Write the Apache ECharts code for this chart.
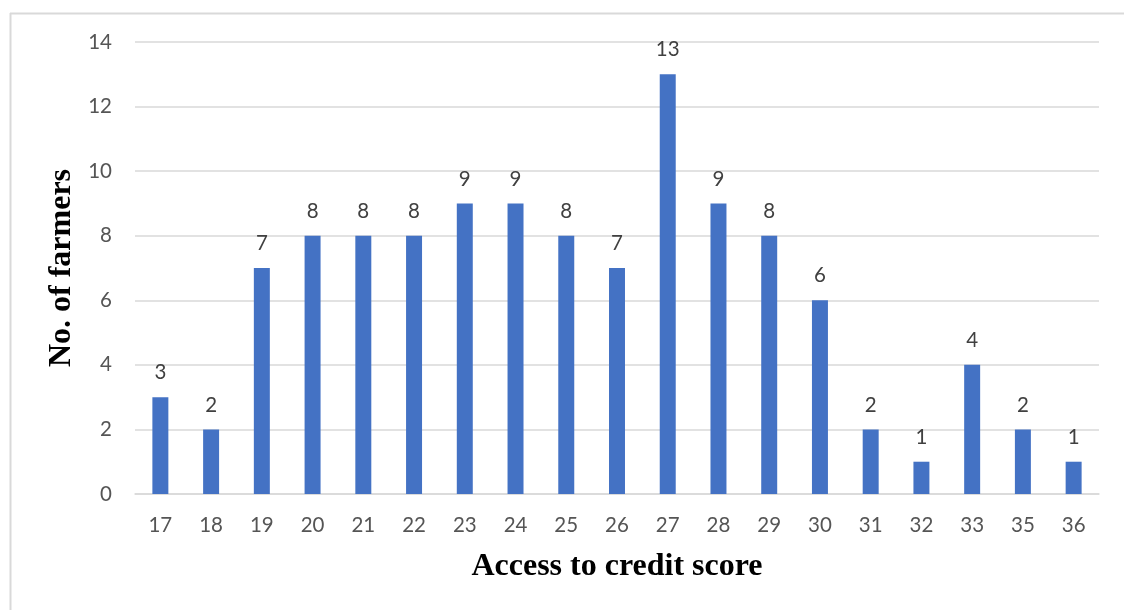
<!DOCTYPE html>
<html>
<head>
<meta charset="utf-8">
<script src="https://cdn.jsdelivr.net/npm/echarts@6/dist/echarts.min.js"></script>
<style>
  html, body { margin: 0; padding: 0; background: #fff; }
  #chart { width: 1124px; height: 610px; }
</style>
</head>
<body>
<div id="chart"></div>
<script>
// Access to credit score categories and number of farmers in each
const scores = ['17', '18', '19', '20', '21', '22', '23', '24', '25', '26', '27', '28', '29', '30', '31', '32', '33', '35', '36'];
const farmers = [3, 2, 7, 8, 8, 8, 9, 9, 8, 7, 13, 9, 8, 6, 2, 1, 4, 2, 1];
const yTicks = [0, 2, 4, 6, 8, 10, 12, 14];

const chart = echarts.init(document.getElementById('chart'), null, { renderer: 'canvas' });

const tickFont = { fontFamily: 'Lato', fontSize: 20.5, color: '#555555' };
const titleFont = { fontFamily: 'Liberation Serif', fontWeight: 'bold', fontSize: 32, color: '#000' };

chart.setOption({
  animation: false,
  backgroundColor: '#ffffff',
  graphic: [
    // frame: top and left edges
    { type: 'line', shape: { x1: 10, y1: 13.5, x2: 1124, y2: 13.5 }, style: { stroke: '#d9d9d9', lineWidth: 2 } },
    { type: 'line', shape: { x1: 10.5, y1: 13, x2: 10.5, y2: 610 }, style: { stroke: '#d9d9d9', lineWidth: 2 } }
  ],
  grid: { left: 135, right: 25, top: 42, bottom: 116, containLabel: false },
  xAxis: {
    type: 'category',
    data: scores,
    name: 'Access to credit score',
    nameLocation: 'middle',
    nameGap: 57,
    nameTextStyle: titleFont,
    axisLine: { lineStyle: { color: '#d9d9d9', width: 1.5 } },
    axisTick: { show: false },
    axisLabel: Object.assign({ margin: 21 }, tickFont)
  },
  yAxis: {
    type: 'value',
    min: yTicks[0],
    max: yTicks[yTicks.length - 1],
    interval: 2,
    name: 'No. of farmers',
    nameLocation: 'middle',
    nameGap: 57,
    nameRotate: 90,
    nameTextStyle: titleFont,
    axisLine: { show: false },
    axisTick: { show: false },
    splitLine: { lineStyle: { color: '#d9d9d9', width: 1.5 } },
    axisLabel: Object.assign({ margin: 23 }, tickFont)
  },
  series: [{
    type: 'bar',
    data: farmers,
    barWidth: '31.5%',
    itemStyle: { color: '#4472C4' },
    label: {
      show: true,
      position: 'top',
      distance: 14,
      fontFamily: 'Lato',
      fontSize: 20.5,
      color: '#404040'
    }
  }]
});
</script>
</body>
</html>
